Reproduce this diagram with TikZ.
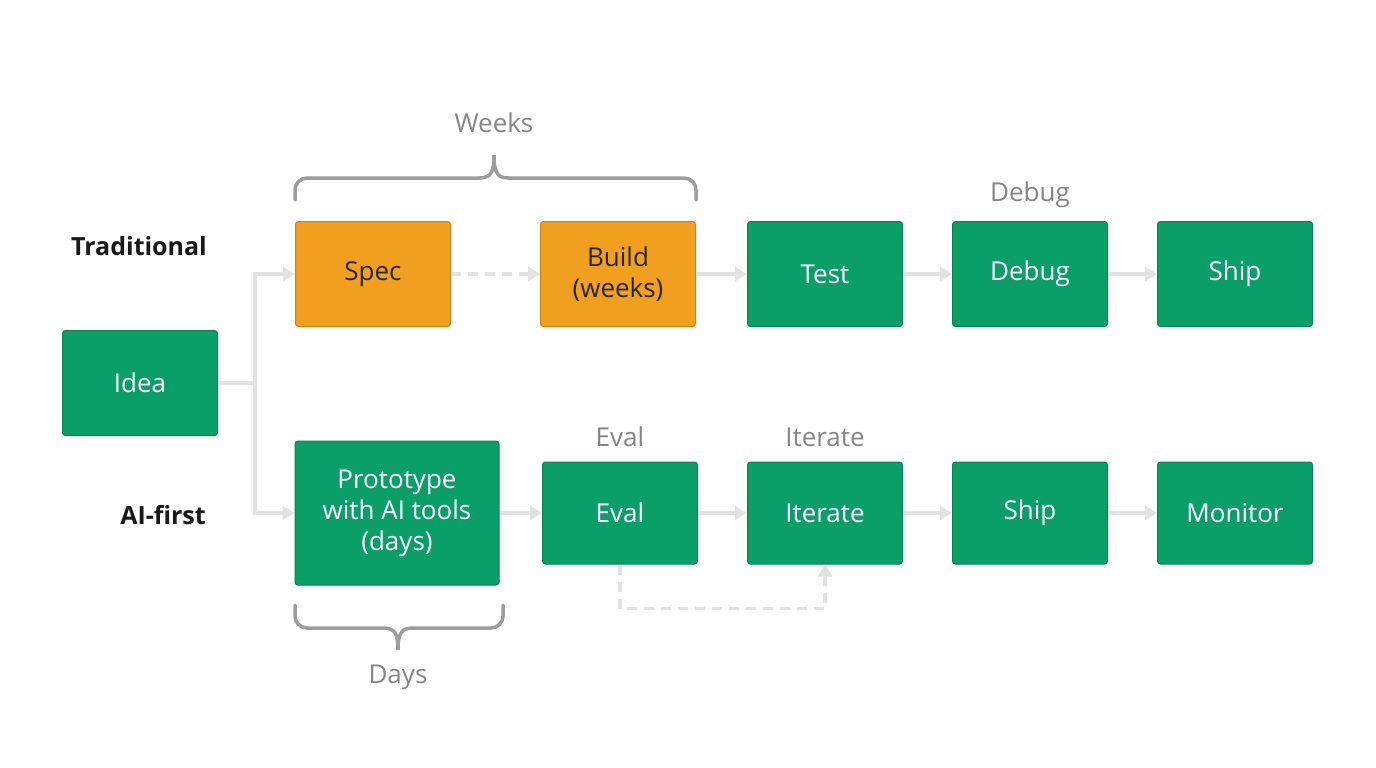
\documentclass[tikz,border=0pt]{standalone}
\usepackage{fontspec}
\setmainfont{Open Sans}
\usetikzlibrary{arrows.meta,calc}
\definecolor{gr}{HTML}{0A9E68}
\definecolor{grb}{HTML}{08805A}
\definecolor{orf}{HTML}{F0A01E}
\definecolor{orb}{HTML}{C9831A}
\definecolor{ln}{HTML}{E2E2E2}
\definecolor{lab}{HTML}{858585}
\begin{document}
\begin{tikzpicture}[x=1pt,y=-1pt,
 box/.style={draw=grb,fill=gr,rounded corners=3pt,line width=1pt,minimum width=155pt,minimum height=105pt,text=white,font=\fontsize{26}{31}\selectfont,align=center,inner sep=0pt},
 obox/.style={box,draw=orb,fill=orf,text=black!85},
 con/.style={draw=ln,line width=3.5pt,-{Triangle[length=12pt,width=14pt]}},
 dsh/.style={dash pattern=on 10pt off 7pt},
 lbl/.style={text=lab,font=\fontsize{26}{30}\selectfont},
 side/.style={font=\fontsize{25}{30}\selectfont\bfseries,text=black!90},
 br/.style={draw=lab!80,line width=3.5pt,line cap=round,rounded corners=12pt}]
\useasboundingbox (0,0) rectangle (1376,768);
\node[box] (idea) at (140,383) {Idea};
\node[obox] (spec) at (373,274) {Spec};
\node[obox] (build) at (618,274) {Build\\(weeks)};
\node[box] (test) at (825,274) {Test};
\node[box] (debug) at (1030,274) {Debug};
\node[box] (ship) at (1235,274) {Ship};
\node[box,minimum width=204pt,minimum height=144pt] (proto) at (397,513) {Prototype\\with AI tools\\(days)};
\node[box,minimum height=102pt] (eval) at (620,513) {Eval};
\node[box,minimum height=102pt] (iter) at (825,513) {Iterate};
\node[box,minimum height=102pt] (ship2) at (1030,513) {Ship};
\node[box,minimum height=102pt] (mon) at (1235,513) {Monitor};
\node[side] (trad) at (139,246) {Traditional};
\node[side] (ai) at (163,515) {AI-first};
\node[lbl] (weeks) at (494,123) {Weeks};
\node[lbl] (dbl) at (1030,195) {Debug};
\node[lbl] (evl) at (620,437) {Eval};
\node[lbl] (itl) at (825,437) {Iterate};
\node[lbl] (days) at (398,677) {Days};
\coordinate (j) at (255,383);
\draw[draw=ln,line width=3.5pt] (idea.east) -- (j);
\draw[con] (j) |- (spec.west);
\draw[con] (j) |- (proto.west);
\draw[con,dsh] (spec) -- (build);
\draw[con] (build) -- (test);
\draw[con] (test) -- (debug);
\draw[con] (debug) -- (ship);
\draw[con] (proto) -- (eval);
\draw[con] (eval) -- (iter);
\draw[con] (iter) -- (ship2);
\draw[con] (ship2) -- (mon);
\draw[con,dsh] (eval.south) -- ++(0,44) -| (iter.south);
\draw[br] (295,200) |- (480,178);
\draw[br,rounded corners=0pt] (480,178) .. controls (492,178) and (494,170) .. (494,155) .. controls (494,170) and (496,178) .. (508,178);
\draw[br] (508,178) -| (696,200);
\draw[br] (295,605) |- (384,628);
\draw[br,rounded corners=0pt] (384,628) .. controls (396,628) and (398,636) .. (398,650) .. controls (398,636) and (400,628) .. (412,628);
\draw[br] (412,628) -| (503,605);
\end{tikzpicture}
\end{document}
